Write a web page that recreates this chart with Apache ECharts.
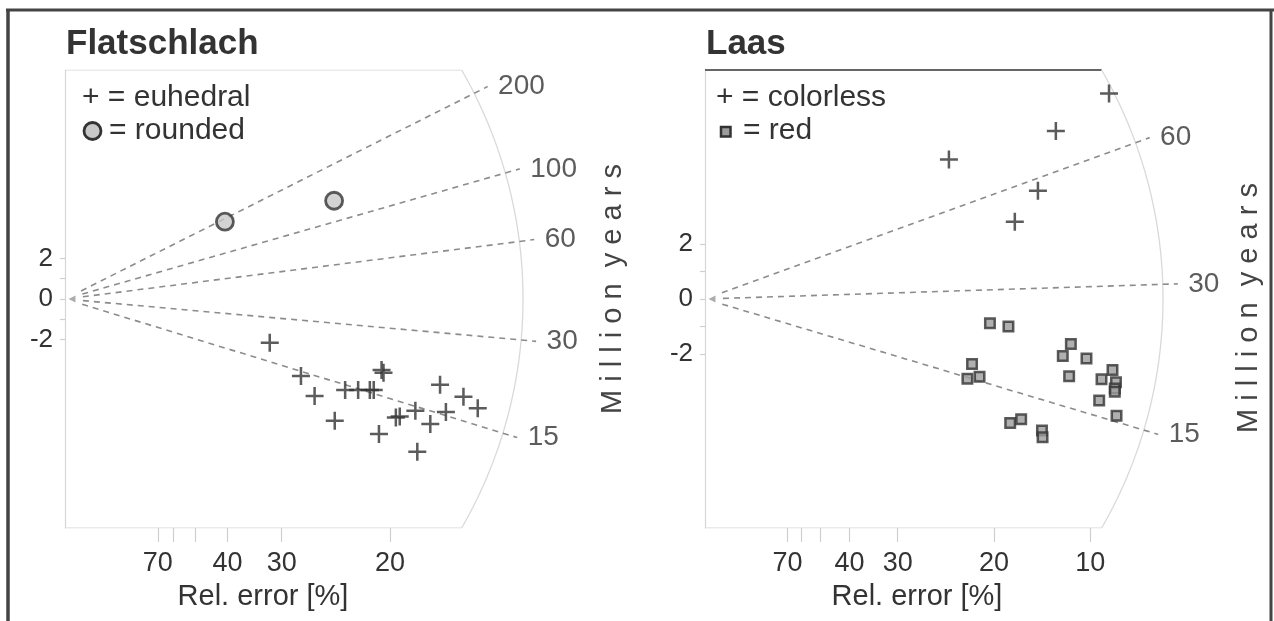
<!DOCTYPE html>
<html><head><meta charset="utf-8">
<script src="https://cdn.jsdelivr.net/npm/echarts@6/dist/echarts.min.js"></script>
<style>html,body{margin:0;padding:0;background:#fff}#c{width:1274px;height:621px}</style>
</head><body><div id="c"></div>
<script>
// ===== DATA (radial plot: precision = 1/relative error, z = standardised estimate) =====
const flatEuhedralPrecision = [3.15,3.63,3.84,4.15,4.31,4.51,4.69,4.75,4.87,4.90,4.83,5.09,5.15,5.39,5.62,5.42,5.77,5.86,6.13,6.35];
const flatEuhedralZ        = [-2.15,-3.79,-4.78,-6.00,-4.48,-4.48,-4.48,-4.48,-3.50,-3.63,-6.65,-5.84,-5.79,-5.50,-6.16,-7.52,-4.22,-5.57,-4.81,-5.38];
const flatRoundedPrecision = [2.46,4.14];
const flatRoundedZ         = [3.81,4.84];
const flatAgeLines   = [200,100,60,30,15];
const flatCentralAge = 40;
const flatRelErrTicks  = [70,60,50,40,30,20];
const flatRelErrLabels = ['70','','','40','30','20'];

const laasColorlessPrecision = [6.99,6.07,4.22,5.76,5.36];
const laasColorlessZ         = [7.45,6.09,5.06,3.92,2.80];
const laasRedPrecision = [4.93,5.25,4.62,4.54,4.75,6.33,6.19,6.60,6.30,6.86,7.05,7.11,7.09,7.09,6.82,7.12,5.28,5.47,5.83,5.84];
const laasRedZ         = [-0.88,-1.00,-2.36,-2.89,-2.82,-1.63,-2.07,-2.16,-2.80,-2.91,-2.57,-3.02,-3.24,-3.36,-3.68,-4.23,-4.49,-4.36,-4.77,-5.01];
const laasAgeLines   = [60,30,15];
const laasCentralAge = 28.05;
const laasRelErrTicks  = [70,60,50,40,30,20,15];
const laasRelErrLabels = ['70','','','40','30','20','10'];

const zTicks  = [-2,-1,0,1,2];
const zLabels = [-2,0,2];

// ===== LAYOUT =====
const FONT = '"Liberation Sans", Arial, Helvetica, sans-serif';
const TXT = '#333333';
const plusPath = 'path://M8.6,0h2.8v8.6h8.6v2.8h-8.6v8.6h-2.8v-8.6h-8.6v-2.8h8.6z';

const panels = [
  {title:'Flatschlach', left:65, top:70, height:458, pxPerX:65, zMax:11.28, t0:flatCentralAge, ages:flatAgeLines,
   relTicks:flatRelErrTicks, relLabels:flatRelErrLabels, topLine:{color:'#d6d6d6', width:1.2}, nameX:263},
  {title:'Laas', left:705, top:70, height:458, pxPerX:57.8, zMax:8.3, t0:laasCentralAge, ages:laasAgeLines,
   relTicks:laasRelErrTicks, relLabels:laasRelErrLabels, topLine:{color:'#666666', width:2}, nameX:917}
];
const GRID_W = 490;

const grids=[], xAxes=[], yAxes=[], series=[];
const zip = (a,b) => a.map((v,i)=>[v,b[i]]);

panels.forEach((p,i)=>{
  const R = p.height;                        // arc radius in px (arc spans +-30 deg)
  const pxPerZ = (p.height/2)/p.zMax;
  const xCorner = R*Math.cos(Math.PI/6)/p.pxPerX;
  grids.push({left:p.left, top:p.top, width:GRID_W, height:p.height, outerBoundsMode:'none', containLabel:false});
  const tickVals = p.relTicks.map(r=>100/r);
  const labVals = p.relTicks.filter((r,k)=>p.relLabels[k]!=='').map(r=>100/r);
  xAxes.push({
    gridIndex:i, type:'value', min:0, max:GRID_W/p.pxPerX, position:'bottom',
    axisLine:{show:false, onZero:false},
    axisTick:{show:true, customValues:tickVals, length:14, lineStyle:{color:'#cfcfcf', width:1.2}},
    axisLabel:{show:true, customValues:labVals, fontSize:27, color:TXT, margin:22, fontFamily:FONT,
      formatter:(v)=>{const k=p.relTicks.findIndex(r=>Math.abs(100/r-v)<1e-6); return k>=0?p.relLabels[k]:'';}},
    splitLine:{show:false}
  });
  yAxes.push({
    gridIndex:i, type:'value', min:-p.zMax, max:p.zMax,
    axisLine:{show:true, onZero:false, lineStyle:{color:'#d6d6d6', width:1.2}},
    axisTick:{show:true, customValues:zTicks, length:5, lineStyle:{color:'#cfcfcf', width:1.2}},
    axisLabel:{show:true, customValues:zLabels, fontSize:26, color:TXT, margin:12, fontFamily:FONT},
    splitLine:{show:false}
  });
  const xi = i, yi = i;
  // box top / bottom edges up to the arc
  series.push({type:'line', xAxisIndex:xi, yAxisIndex:yi, data:[[0,p.zMax],[xCorner,p.zMax]], symbol:'none', silent:true,
    lineStyle:p.topLine, z:1, animation:false});
  series.push({type:'line', xAxisIndex:xi, yAxisIndex:yi, data:[[0,-p.zMax],[xCorner,-p.zMax]], symbol:'none', silent:true,
    lineStyle:{color:'#d6d6d6', width:1.2}, z:1, animation:false});
  // arc (radial scale)
  const arc=[];
  for(let d=-30; d<=30; d+=1){const t=d*Math.PI/180; arc.push([R*Math.cos(t)/p.pxPerX, R*Math.sin(t)/pxPerZ]);}
  series.push({type:'line', xAxisIndex:xi, yAxisIndex:yi, data:arc, symbol:'none', silent:true,
    lineStyle:{color:'#d9d9d9', width:1.3}, z:1, animation:false});
  // age lines
  const ends=[];
  p.ages.forEach(age=>{
    const s = Math.log(age/p.t0);
    const f = 1/Math.sqrt(p.pxPerX*p.pxPerX + s*s*pxPerZ*pxPerZ);
    const r0=18, r1=473;
    const end=[r1*f, r1*f*s];
    ends.push({value:end, name:String(age)});
    series.push({type:'line', xAxisIndex:xi, yAxisIndex:yi, data:[[r0*f, r0*f*s], end], symbol:'none', silent:true,
      lineStyle:{color:'#8c8c8c', width:1.6, type:[6,5]}, z:2, animation:false});
  });
  series.push({type:'scatter', xAxisIndex:xi, yAxisIndex:yi, data:ends, symbolSize:1, clip:false, silent:true,
    itemStyle:{color:'rgba(0,0,0,0)'}, z:3, animation:false,
    label:{show:true, position:'right', distance:10, formatter:'{b}', fontSize:28, color:TXT, fontFamily:FONT}});
  // origin marker
  series.push({type:'scatter', xAxisIndex:xi, yAxisIndex:yi, data:[[7/p.pxPerX,0]], symbol:'triangle', symbolRotate:90,
    symbolSize:7, itemStyle:{color:'#999'}, clip:false, silent:true, z:3, animation:false});
});

// data marks
series.push({name:'euhedral', type:'scatter', xAxisIndex:0, yAxisIndex:0, data:zip(flatEuhedralPrecision,flatEuhedralZ),
  symbol:plusPath, symbolSize:18, itemStyle:{color:'#333'}, z:5, animation:false});
series.push({name:'rounded', type:'scatter', xAxisIndex:0, yAxisIndex:0, data:zip(flatRoundedPrecision,flatRoundedZ),
  symbol:'circle', symbolSize:17, itemStyle:{color:'#c8c8c8', borderColor:'#333', borderWidth:2.8}, z:5, animation:false});
series.push({name:'colorless', type:'scatter', xAxisIndex:1, yAxisIndex:1, data:zip(laasColorlessPrecision,laasColorlessZ),
  symbol:plusPath, symbolSize:18, itemStyle:{color:'#333'}, z:5, animation:false});
series.push({name:'red', type:'scatter', xAxisIndex:1, yAxisIndex:1, data:zip(laasRedPrecision,laasRedZ),
  symbol:'rect', symbolSize:9.5, itemStyle:{color:'#9c9c9c', borderColor:'#333', borderWidth:2.5}, z:5, animation:false});

const txt = (x,y,text,opt={}) => ({type:'text', x, y, silent:true, rotation:opt.rotation||0,
  style:{text, fontSize:opt.size||30, fontFamily:FONT, fill:opt.fill||TXT, fontWeight:opt.weight||'normal',
  align:opt.align||'left', verticalAlign:'middle'}});

const graphic = [
  // outer frame
  {type:'line', shape:{x1:6, y1:10, x2:1274, y2:10}, style:{stroke:'#444', lineWidth:3}, silent:true},
  {type:'line', shape:{x1:8, y1:9, x2:8, y2:621}, style:{stroke:'#444', lineWidth:3.5}, silent:true},
  {type:'line', shape:{x1:1271, y1:9, x2:1271, y2:621}, style:{stroke:'#444', lineWidth:3}, silent:true},
  // legends
  txt(82,98,'+ = euhedral'),
  {type:'circle', shape:{cx:92.5, cy:131, r:8.5}, style:{fill:'#c8c8c8', stroke:'#333', lineWidth:2.8}, silent:true},
  txt(109,131,'= rounded'),
  txt(716,98,'+ = colorless'),
  {type:'rect', shape:{x:721, y:127, width:9.5, height:9.5}, style:{fill:'#9c9c9c', stroke:'#333', lineWidth:2.5}, silent:true},
  txt(743,131,'= red'),
  // axis names
  txt(panels[0].nameX,597,'Rel. error [%]',{size:29, align:'center'}),
  txt(panels[1].nameX,597,'Rel. error [%]',{size:29, align:'center'}),
  // right-hand unit labels
  txt(613,289,'M i l l i o n  y e a r s',{size:29, align:'center', rotation:Math.PI/2, fill:'#444'}),
  txt(1249,308,'M i l l i o n  y e a r s',{size:29, align:'center', rotation:Math.PI/2, fill:'#444'})
];

const chart = echarts.init(document.getElementById('c'));
chart.setOption({
  animation:false,
  backgroundColor:'#ffffff',
  textStyle:{fontFamily:FONT},
  title: panels.map(p=>({text:p.title, left:p.left+1, top:27, padding:0,
    textStyle:{fontSize:35, fontWeight:'bold', color:TXT, fontFamily:FONT}})),
  grid:grids, xAxis:xAxes, yAxis:yAxes, series, graphic
});
</script></body></html>
